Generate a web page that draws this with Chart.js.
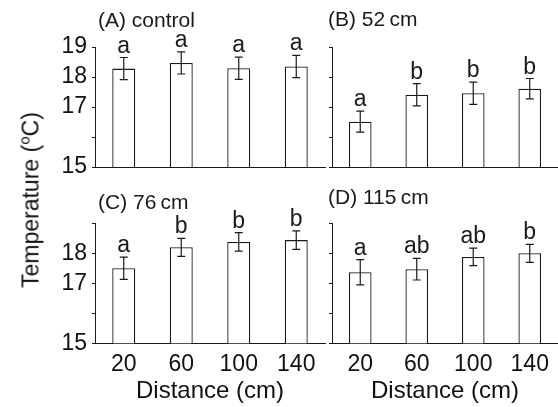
<!DOCTYPE html>
<html>
<head>
<meta charset="utf-8">
<script src="https://cdn.jsdelivr.net/npm/chart.js@4/dist/chart.umd.min.js"></script>
<style>
  body { margin: 0; background: #fff; width: 558px; height: 407px; position: relative; overflow: hidden;
         font-family: "Liberation Sans", Arial, sans-serif; color: #111; }
  canvas { position: absolute; }
  #yTitle { position: absolute; left: 31px; top: 200px; transform: translate(-50%, -50%) rotate(-90deg);
            font-size: 23px; white-space: nowrap; }
  #yTitle sup { font-size: 15px; vertical-align: 9px; line-height: 0; }
</style>
</head>
<body>
<canvas id="panelA" width="330" height="180" style="left:0;top:0"></canvas>
<canvas id="panelB" width="238" height="180" style="left:320px;top:0"></canvas>
<canvas id="panelC" width="330" height="227" style="left:0;top:180px"></canvas>
<canvas id="panelD" width="238" height="227" style="left:320px;top:180px"></canvas>
<div id="yTitle">Temperature (<sup>o</sup>C)</div>
<script>
// Datos
const distances = ['20', '60', '100', '140'];

const meanA = [18.28, 18.47, 18.29, 18.35];
const errA = [0.37, 0.37, 0.37, 0.37];
const lettersA = ['a', 'a', 'a', 'a'];

const meanB = [16.51, 17.41, 17.46, 17.61];
const errB = [0.35, 0.37, 0.37, 0.34];
const lettersB = ['a', 'b', 'b', 'b'];

const meanC = [17.50, 18.20, 18.38, 18.44];
const errC = [0.37, 0.30, 0.31, 0.31];
const lettersC = ['a', 'b', 'b', 'b'];

const meanD = [17.37, 17.47, 17.88, 18.00];
const errD = [0.42, 0.36, 0.29, 0.30];
const lettersD = ['a', 'ab', 'ab', 'b'];

const yTicksTop = [19, 18, 17, 15];
const yTicksBottom = [18, 17, 15];

Chart.defaults.font.family = '"Liberation Sans", Arial, sans-serif';
Chart.defaults.color = '#111';

const INK = '#1a1a1a';

// Barras de error, letras y título del panel
const panelDecor = {
    id: 'panelDecor',
    afterDatasetsDraw(chart, args, opts) {
        const ctx = chart.ctx;
        const yScale = chart.scales.y;
        const bars = chart.getDatasetMeta(0).data;
        ctx.save();
        ctx.strokeStyle = INK;
        ctx.lineWidth = 1.2;
        ctx.fillStyle = INK;
        ctx.font = '23px "Liberation Sans", Arial, sans-serif';
        ctx.textAlign = 'center';
        ctx.textBaseline = 'alphabetic';
        bars.forEach((bar, i) => {
            const x = bar.x;
            const yHi = yScale.getPixelForValue(opts.means[i] + opts.errs[i]);
            const yLo = yScale.getPixelForValue(opts.means[i] - opts.errs[i]);
            ctx.beginPath();
            ctx.moveTo(x, yHi); ctx.lineTo(x, yLo);
            ctx.moveTo(x - 4, yHi); ctx.lineTo(x + 4, yHi);
            ctx.moveTo(x - 4, yLo); ctx.lineTo(x + 4, yLo);
            ctx.stroke();
            ctx.fillText(opts.letters[i], x, yHi - 5);
        });
        ctx.textAlign = 'left';
        ctx.textBaseline = 'middle';
        ctx.font = '21px "Liberation Sans", Arial, sans-serif';
        ctx.fillText(opts.title, opts.titleX, opts.titleY);
        ctx.restore();
    }
};

function makePanel(id, means, errs, letters, cfg) {
    const canvas = document.getElementById(id);
    return new Chart(canvas, {
        type: 'bar',
        data: {
            labels: distances,
            datasets: [{
                data: means,
                backgroundColor: '#fff',
                borderColor: INK,
                borderWidth: 1.3,
                categoryPercentage: 1,
                barPercentage: 0.4
            }]
        },
        options: {
            responsive: false,
            animation: false,
            layout: { padding: { top: cfg.top, right: cfg.right, left: 0, bottom: 0 } },
            plugins: {
                legend: { display: false },
                tooltip: { enabled: false },
                panelDecor: { means, errs, letters, title: cfg.title, titleX: cfg.titleX, titleY: cfg.titleY }
            },
            scales: {
                x: {
                    grid: { display: false, drawTicks: false },
                    border: { display: true, color: INK, width: 1 },
                    ticks: { display: cfg.showX, font: { size: 23 }, padding: 8, color: '#111', autoSkip: false, maxRotation: 0 },
                    title: { display: cfg.showX, text: 'Distance (cm)', font: { size: 24 }, padding: { top: 0, bottom: 1 }, color: '#111' },
                    afterFit: s => {
                        s.height = cfg.xHeight;
                        s.paddingLeft = 0; s.paddingRight = 0;
                    }
                },
                y: {
                    min: 15,
                    max: 19,
                    grid: { display: true, drawOnChartArea: false, drawTicks: true, tickLength: 3, color: INK },
                    border: { display: true, color: INK, width: 1 },
                    ticks: {
                        stepSize: 1,
                        autoSkip: false,
                        display: cfg.yLabels !== null,
                        padding: 5,
                        font: { size: 23 },
                        color: '#111',
                        callback: v => (cfg.yLabels && cfg.yLabels.includes(v)) ? String(v) : ''
                    },
                    afterFit: s => {
                        s.width = cfg.yWidth;
                        s.paddingTop = 0; s.paddingBottom = 0;
                    }
                }
            }
        },
        plugins: [panelDecor]
    });
}

makePanel('panelA', meanA, errA, lettersA,
    { top: 47, right: 5, yWidth: 95, xHeight: 13, showX: false, yLabels: yTicksTop,
      title: '(A) control', titleX: 98, titleY: 21 });
makePanel('panelB', meanB, errB, lettersB,
    { top: 47, right: 0, yWidth: 12, xHeight: 13, showX: false, yLabels: null,
      title: '(B) 52\u2009cm', titleX: 8, titleY: 20 });
makePanel('panelC', meanC, errC, lettersC,
    { top: 43.3, right: 5, yWidth: 95, xHeight: 63.7, showX: true, yLabels: yTicksBottom,
      title: '(C) 76\u2009cm', titleX: 98, titleY: 23 });
makePanel('panelD', meanD, errD, lettersD,
    { top: 43.3, right: 0, yWidth: 12, xHeight: 63.7, showX: true, yLabels: null,
      title: '(D) 115\u2009cm', titleX: 8, titleY: 18 });
</script>
</body>
</html>
